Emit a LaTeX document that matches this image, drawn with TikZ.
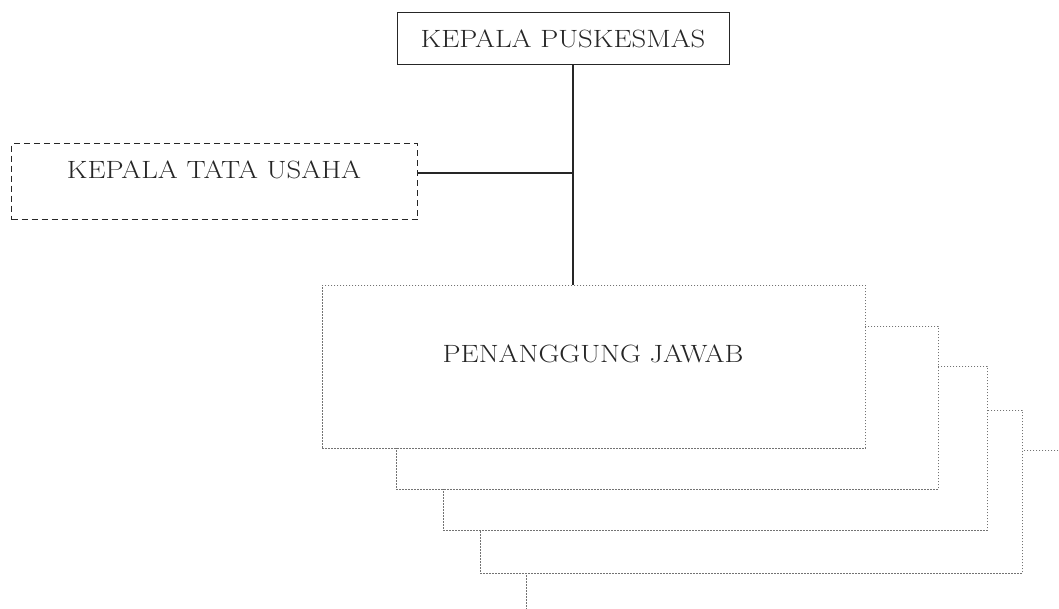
\documentclass[tikz,border=0pt]{standalone}
\newcommand{\wideText}[1]{\scalebox{1.15}[1]{#1}}
\begin{document}
\begin{tikzpicture}[x=1pt,y=-1pt,
  solidbox/.style={draw=black!85,line width=1.3pt,inner sep=0pt,anchor=north west},
  dashbox/.style={draw=black!85,line width=1.2pt,dash pattern=on 6pt off 4pt,inner sep=0pt,anchor=north west},
  stackbox/.style={draw=black!55,line width=0.9pt,dash pattern=on 1.6pt off 1.4pt,fill=white,inner sep=0pt,anchor=north west},
  lbl/.style={font=\fontsize{25}{30}\selectfont,inner sep=0pt,text=black!85},
  conn/.style={draw=black!85,line width=1.3pt}]
\useasboundingbox (0,0) rectangle (1059,608);
\clip (0,0) rectangle (1059,608);
% stacked boxes, back to front
\node[stackbox,minimum width=545pt,minimum height=165pt] (b5) at (526,450) {};
\node[stackbox,minimum width=542pt,minimum height=163pt] (b4) at (480,410) {};
\node[stackbox,minimum width=544pt,minimum height=164pt] (b3) at (443,366) {};
\node[stackbox,minimum width=542pt,minimum height=163pt] (b2) at (396,326) {};
\node[stackbox,minimum width=543pt,minimum height=163pt] (pjbox) at (322,285) {};
\node[lbl] (pj) at (593,354) {\wideText{PENANGGUNG JAWAB}};
% top box
\node[solidbox,minimum width=332pt,minimum height=52pt] (kpbox) at (397,12) {};
\node[lbl] (kp) at (563,39) {\wideText{KEPALA PUSKESMAS}};
% tata usaha
\node[dashbox,minimum width=406pt,minimum height=76pt] (ktsbox) at (11,143) {};
\node[lbl] (kts) at (214,170) {\wideText{KEPALA TATA USAHA}};
% connectors
\coordinate (j) at (573,173);
\draw[conn] (kpbox.south -| j) -- (j) -- (pjbox.north -| j);
\draw[conn] (ktsbox.east |- j) -- (j);
\end{tikzpicture}
\end{document}
